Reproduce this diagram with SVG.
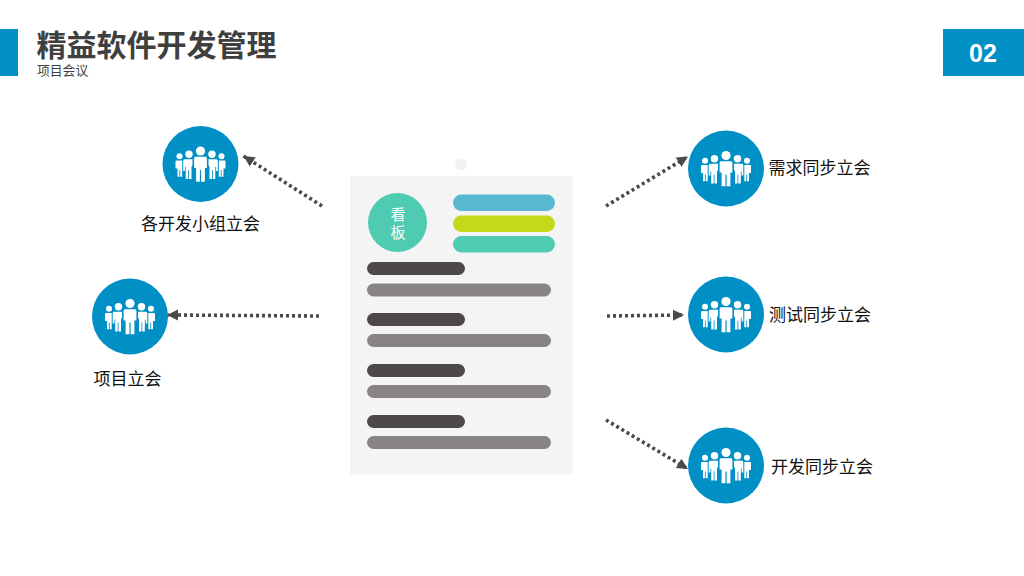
<svg xmlns="http://www.w3.org/2000/svg" width="1024" height="576" viewBox="0 0 1024 576">
<style>
text{font-family:"Liberation Sans","Noto Sans CJK SC",sans-serif}
.lbl{font-size:17px;fill:#111}
.blue{fill:#0090c5}
.dark{fill:#4d4948}
.grey{fill:#888483}
.conn{fill:none;stroke:#4d4948;stroke-width:3.6;stroke-dasharray:3 3}
.fig{fill:#fff}
</style>
<defs>
<marker id="arrow" markerUnits="userSpaceOnUse" markerWidth="13" markerHeight="12" refX="11" refY="6" orient="auto"><path d="M0 0.500L11 6L0 11.500Z" fill="#4d4948"/></marker>
<g id="team" class="fig">
<circle cx="0" cy="-13" r="4.600"/>
<path d="M-5-7.300H5Q6.400-7.300 6.400-5.500V4H4.400V17.700H.6V6H-.6V17.700H-4.400V4H-6.400V-5.500Q-6.400-7.300-5-7.300Z"/>
<circle cx="-11.500" cy="-9.800" r="3.700"/>
<path d="M-16-4.700H-8V1L-9 3V15H-11.500V6H-12.300V15H-14.800V3H-15.600V7H-17.300V-3.200Q-17.300-4.700-16-4.700Z"/>
<circle cx="11.500" cy="-9.800" r="3.700"/>
<path d="M16-4.700H8V1L9 3V15H11.500V6H12.300V15H14.800V3H15.600V7H17.300V-3.200Q17.300-4.700 16-4.700Z"/>
<circle cx="-21" cy="-7.700" r="3"/>
<path d="M-24-3.500H-18.300V12.700H-20.300V6H-21.100V12.700H-23V4.500H-25V-2.300Q-25-3.500-24-3.500Z"/>
<circle cx="21" cy="-7.700" r="3"/>
<path d="M24-3.500H18.300V12.700H20.300V6H21.100V12.700H23V4.500H25V-2.300Q25-3.500 24-3.500Z"/>
</g>
</defs>
<rect width="1024" height="576" fill="#fff"/>
<g id="header">
<rect class="blue" x="0" y="29" width="18" height="47"/>
<text x="36.500" y="56" font-size="30" font-weight="700" fill="#3f3f3f">精益软件开发管理</text>
<text x="37" y="74.500" font-size="12.800" fill="#3f3f3f">项目会议</text>
<rect class="blue" x="943" y="29" width="81" height="47"/>
<text x="983" y="62" font-size="25" font-weight="700" fill="#fff" text-anchor="middle">02</text>
</g>
<g id="connectors">
<path class="conn" marker-end="url(#arrow)" d="M322 206L243.500 156"/>
<path class="conn" marker-end="url(#arrow)" d="M319 316L167 315"/>
<path class="conn" marker-end="url(#arrow)" d="M606 206L688 156.500"/>
<path class="conn" marker-end="url(#arrow)" d="M607 316L684 315"/>
<path class="conn" marker-end="url(#arrow)" d="M606 420L688 469"/>
</g>
<g id="board">
<circle cx="461" cy="164.500" r="6" fill="#f1f1f1"/>
<rect x="350" y="176" width="222.500" height="298.500" fill="#f4f4f4"/>
<circle cx="397.500" cy="222.500" r="29.500" fill="#4fcbb2"/>
<text x="398" y="219.500" font-size="15" fill="#fff" text-anchor="middle">看</text>
<text x="398" y="237.500" font-size="15" fill="#fff" text-anchor="middle">板</text>
<rect x="453" y="194.500" width="102" height="16.500" rx="8.250" fill="#57b8cf"/>
<rect x="453" y="215.500" width="102" height="16.500" rx="8.250" fill="#c5d91b"/>
<rect x="453" y="236" width="102" height="16.500" rx="8.250" fill="#4fcbb2"/>
<rect class="dark" x="367" y="262" width="98" height="13" rx="6.500"/>
<rect class="grey" x="367" y="283.500" width="184" height="13" rx="6.500"/>
<rect class="dark" x="367" y="313" width="98" height="13" rx="6.500"/>
<rect class="grey" x="367" y="334" width="184" height="13" rx="6.500"/>
<rect class="dark" x="367" y="364" width="98" height="13" rx="6.500"/>
<rect class="grey" x="367" y="385" width="184" height="13" rx="6.500"/>
<rect class="dark" x="367" y="415" width="98" height="13" rx="6.500"/>
<rect class="grey" x="367" y="436" width="184" height="13" rx="6.500"/>
</g>
<g id="node-team"><circle class="blue" cx="200.500" cy="164" r="38"/><use href="#team" x="200.500" y="164"/><text class="lbl" x="200.500" y="230" text-anchor="middle">各开发小组立会</text></g>
<g id="node-project"><circle class="blue" cx="130" cy="316.500" r="38"/><use href="#team" x="130" y="316.500"/><text class="lbl" x="127.500" y="385" text-anchor="middle">项目立会</text></g>
<g id="node-req"><circle class="blue" cx="726" cy="168.500" r="38"/><use href="#team" x="726" y="168.500"/><text class="lbl" x="768.500" y="174">需求同步立会</text></g>
<g id="node-test"><circle class="blue" cx="726" cy="314.500" r="38"/><use href="#team" x="726" y="314.500"/><text class="lbl" x="769" y="321">测试同步立会</text></g>
<g id="node-dev"><circle class="blue" cx="726" cy="465.500" r="38"/><use href="#team" x="726" y="465.500"/><text class="lbl" x="771" y="473">开发同步立会</text></g>
</svg>
